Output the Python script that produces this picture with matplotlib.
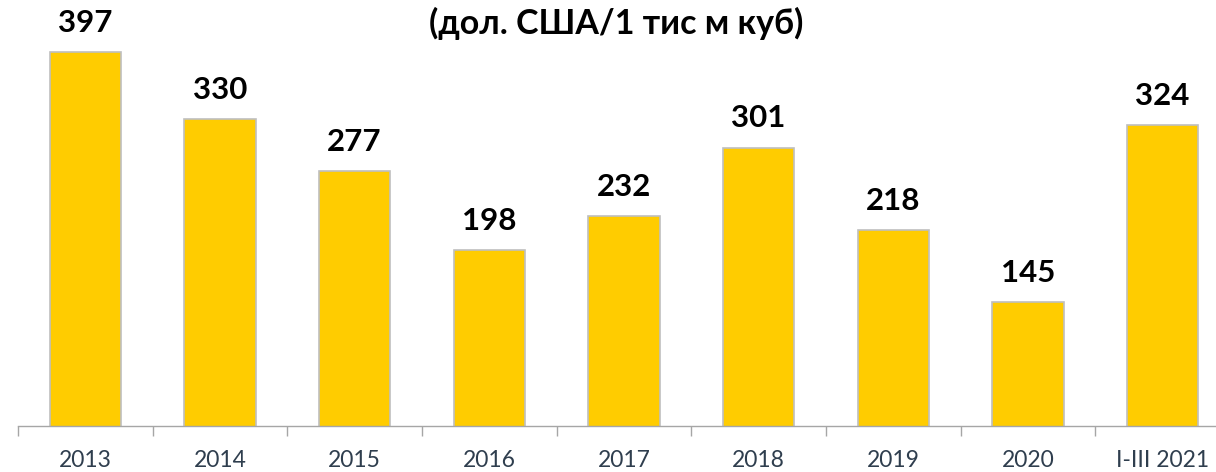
import numpy as np
import matplotlib.pyplot as plt

# Середня ціна, дол. США за 1 тис м куб
years = ['2013', '2014', '2015', '2016', '2017', '2018', '2019', '2020', 'I-III 2021']
prices = [397, 330, 277, 198, 232, 301, 218, 145, 324]

plt.rcParams['font.family'] = ['Lato', 'DejaVu Sans']

fig = plt.figure(figsize=(12.16, 4.72), dpi=100)
ax = fig.add_axes([0.0148, 0.0964, 0.9967, 0.841])

x = np.arange(len(years))
ax.bar(x, prices, width=0.53, bottom=0, color='#FFCC00',
       edgecolor='#BFBFBF', linewidth=1.2, zorder=2)

for xi, v in zip(x, prices):
    ax.annotate(str(v), (xi, v), xytext=(0, 11), textcoords='offset points',
                ha='center', va='bottom', fontsize=22.5, fontweight='bold',
                color='black')

ax.set_xlim(-0.5, len(years) - 0.5)
ax.set_ylim(20, 420)

# осі: лише нижня лінія з поділками між категоріями
for side in ['left', 'right', 'top']:
    ax.spines[side].set_visible(False)
ax.spines['bottom'].set_color('#A6A6A6')
ax.spines['bottom'].set_linewidth(1.0)
ax.set_yticks([])
ax.set_xticks(x)
ax.set_xticklabels(years, fontsize=16.5, color='#2F3E4E')
ax.tick_params(axis='x', which='major', length=0, pad=17)
ax.set_xticks(np.arange(-0.5, len(years), 1), minor=True)
ax.tick_params(axis='x', which='minor', length=7, color='#A6A6A6', width=1.0)

fig.text(0.507, 0.95, '(дол. США/1 тис м куб)', ha='center', va='center',
         fontsize=24.5, fontweight='bold', color='black')

fig.savefig('out.png', dpi=100)
